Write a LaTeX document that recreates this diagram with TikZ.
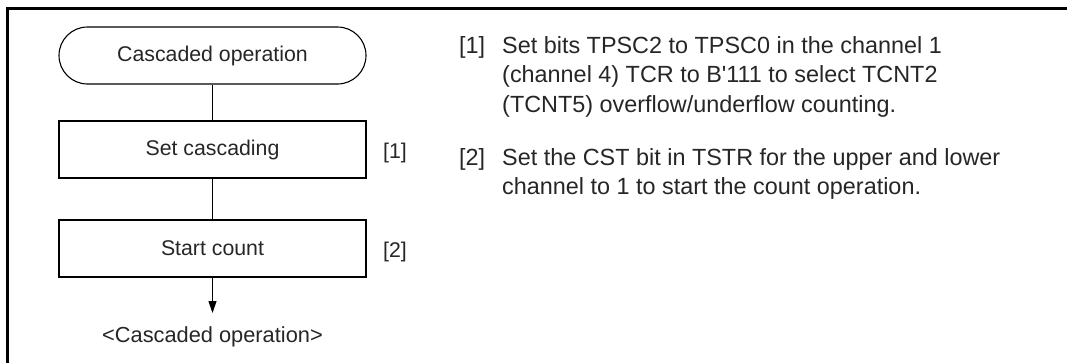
\documentclass[tikz,border=0pt]{standalone}
\usepackage{fontspec}
\setmainfont{Liberation Sans}
\usetikzlibrary{arrows.meta}
\begin{document}
\begin{tikzpicture}[x=1pt,y=-1pt,
  every node/.style={font=\fontsize{21.3}{29.5}\selectfont, text=black!85},
  procbox/.style={draw, line width=1.1pt, minimum width=307pt, minimum height=57pt, inner sep=0pt},
  termbox/.style={procbox, rounded corners=28.5pt},
  conn/.style={line width=1.1pt},
  lbl/.style={anchor=base west, inner sep=0pt},
  rtxt/.style={lbl, font=\fontsize{23.4}{29.5}\selectfont}]
\useasboundingbox (0,0) rectangle (1067,362);
\draw[line width=2.5pt] (7.5,370) -- (7.5,8.5) -- (1070,8.5);
\node[termbox] (t) at (212.5,55.5) {Cascaded operation};
\node[procbox] (b1) at (212.5,149.5) {Set cascading};
\node[procbox] (b2) at (212.5,248.5) {Start count};
\coordinate (e) at (212.5,313);
\node[anchor=base, inner sep=0pt, font=\fontsize{21.8}{26}\selectfont] (out) at (212.5,342) {<Cascaded operation>};
\draw[conn] (t) -- (b1);
\draw[conn] (b1) -- (b2);
\draw[conn, -{Triangle[length=12pt,width=8pt]}] (b2) -- (e);
\node[lbl] (n1) at (383,158) {[1]};
\node[lbl] (n2) at (383,257) {[2]};
\node[rtxt] (r1) at (459,53) {[1]};
\node[rtxt] (r1a) at (502,53) {Set bits TPSC2 to TPSC0 in the channel 1};
\node[rtxt] (r1b) at (502,82.5) {(channel 4) TCR to B\textquotesingle 111 to select TCNT2};
\node[rtxt] (r1c) at (502,112) {(TCNT5) overflow/underflow counting.};
\node[rtxt] (r2) at (459,165) {[2]};
\node[rtxt] (r2a) at (502,165) {Set the CST bit in TSTR for the upper and lower};
\node[rtxt] (r2b) at (502,194.5) {channel to 1 to start the count operation.};
\end{tikzpicture}
\end{document}
